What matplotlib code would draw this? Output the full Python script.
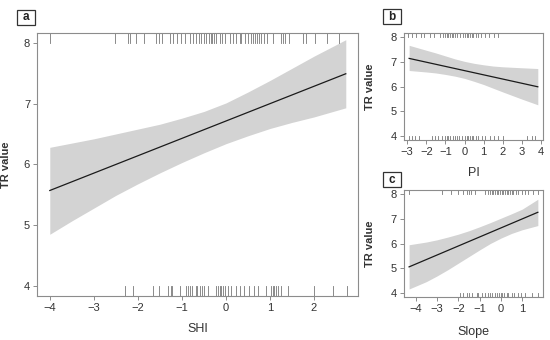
import numpy as np
import matplotlib
matplotlib.use("Agg")
import matplotlib.pyplot as plt
from matplotlib.patches import Rectangle

plt.rcParams['font.family'] = ['Liberation Sans', 'DejaVu Sans']

# panel a: SHI
shi_line_x = [-4.0, 2.72]
shi_line_y = [5.57, 7.49]
shi_band_x = [-4.0, -3.5, -3.0, -2.5, -2.0, -1.5, -1.0, -0.5, 0.0, 0.5, 1.0, 1.5, 2.0, 2.72]
shi_band_lo = [4.85, 5.07, 5.28, 5.49, 5.68, 5.86, 6.03, 6.19, 6.34, 6.47, 6.59, 6.69, 6.78, 6.93]
shi_band_hi = [6.28, 6.35, 6.42, 6.50, 6.58, 6.66, 6.76, 6.87, 7.01, 7.19, 7.38, 7.58, 7.78, 8.05]
shi_rug_top = [-3.99, -2.52, -2.23, -2.18, -2.05, -1.86, -1.59, -1.52, -1.46, -1.28,
               -1.20, -1.12, -1.01, -0.94, -0.82, -0.75, -0.67, -0.62, -0.56, -0.50,
               -0.45, -0.39, -0.35, -0.32, -0.27, -0.22, -0.14, -0.09, -0.03, 0.10,
               0.16, 0.22, 0.31, 0.35, 0.44, 0.50, 0.56, 0.61, 0.65, 0.71, 0.76, 0.80,
               0.87, 0.94, 1.06, 1.25, 1.29, 1.33, 1.44, 1.74, 1.82, 2.03, 2.30, 2.57]
shi_rug_bot = [-2.30, -2.12, -1.65, -1.53, -1.31, -1.24, -1.22, -1.05, -0.90, -0.86,
               -0.82, -0.76, -0.69, -0.65, -0.60, -0.55, -0.50, -0.41, -0.22, -0.18,
               -0.14, -0.11, -0.07, -0.03, 0.04, 0.12, 0.23, 0.31, 0.42, 0.53, 0.63,
               0.72, 0.91, 1.03, 1.06, 1.10, 1.14, 1.18, 1.24, 1.40, 1.99, 2.44, 2.75]

# panel b: PI
pi_line_x = [-2.9, 3.83]
pi_line_y = [7.15, 6.0]
pi_band_x = [-2.9, -2.0, -1.5, -1.0, -0.5, 0.0, 0.5, 1.0, 1.5, 2.0, 3.0, 3.83]
pi_band_lo = [6.66, 6.60, 6.56, 6.50, 6.43, 6.34, 6.22, 6.09, 5.94, 5.79, 5.50, 5.27]
pi_band_hi = [7.68, 7.48, 7.37, 7.25, 7.13, 7.03, 6.95, 6.89, 6.84, 6.81, 6.77, 6.74]
pi_rug_top = [-2.95, -2.77, -2.54, -2.30, -2.11, -1.81, -1.60, -1.29, -1.12, -1.03,
              -0.94, -0.85, -0.76, -0.68, -0.59, -0.50, -0.38, -0.24, -0.10, 0.02,
              0.11, 0.19, 0.28, 0.37, 0.46, 0.60, 0.72, 0.84, 1.07, 1.29, 1.54, 1.76]
pi_rug_bot = [-2.92, -2.77, -2.60, -2.37, -1.72, -1.55, -1.38, -1.20, -1.03, -0.94,
              -0.85, -0.76, -0.62, -0.50, -0.38, -0.28, -0.15, 0.02, 0.11, 0.19,
              0.28, 0.37, 0.46, 0.60, 0.72, 0.90, 1.07, 1.33, 1.54, 1.76, 1.99,
              3.25, 3.51, 3.69]

# panel c: Slope
sl_line_x = [-4.31, 1.73]
sl_line_y = [5.05, 7.27]
sl_band_x = [-4.31, -3.5, -3.0, -2.5, -2.0, -1.5, -1.0, -0.5, 0.0, 0.5, 1.0, 1.73]
sl_band_lo = [4.15, 4.45, 4.68, 4.93, 5.20, 5.47, 5.74, 6.00, 6.22, 6.41, 6.56, 6.73]
sl_band_hi = [5.95, 6.06, 6.15, 6.26, 6.38, 6.52, 6.68, 6.85, 7.03, 7.21, 7.40, 7.80]
sl_rug_top = [-4.31, -2.75, -2.34, -2.03, -1.77, -1.61, -1.50, -1.40, -1.22, -0.75,
              -0.62, -0.51, -0.43, -0.36, -0.28, -0.20, -0.12, -0.04, 0.04, 0.11,
              0.19, 0.27, 0.35, 0.43, 0.51, 0.58, 0.69, 0.82, 0.98, 1.13, 1.29,
              1.52, 1.73]
sl_rug_bot = [-1.92, -1.77, -1.61, -1.50, -1.34, -1.14, -1.06, -0.87, -0.75, -0.62,
              -0.51, -0.40, -0.28, -0.20, -0.09, 0.00, 0.07, 0.16, 0.27, 0.35, 0.51,
              0.63, 0.79, 0.94, 1.13, 1.45, 1.76]

y_ticks = [4, 5, 6, 7, 8]
txt = '#333333'
frame = '#8c8c8c'

fig = plt.figure(figsize=(5.5, 3.4), dpi=100)
ax_a = fig.add_axes([0.0673, 0.1303, 0.583, 0.7726])
ax_b = fig.add_axes([0.7345, 0.588, 0.2527, 0.3135])
ax_c = fig.add_axes([0.7345, 0.1276, 0.2527, 0.3124])


def panel(ax, lx, ly, bx, blo, bhi, rtop, rbot, xlim, xticks, xlabel, ylab_x, xlab_y, rug_len):
    ax.fill_between(bx, blo, bhi, color='#d3d3d3', lw=0)
    ax.plot(lx, ly, color='#1a1a1a', lw=0.9)
    for v in rtop:
        ax.plot([v, v], [1 - rug_len, 1], transform=ax.get_xaxis_transform(),
                color='#555555', lw=0.6, alpha=0.8)
    for v in rbot:
        ax.plot([v, v], [0, rug_len], transform=ax.get_xaxis_transform(),
                color='#555555', lw=0.6, alpha=0.8)
    ax.set_xlim(*xlim)
    ax.set_ylim(3.84, 8.16)
    ax.set_xticks(xticks)
    ax.set_yticks(y_ticks)
    ax.set_xticklabels([str(t).replace('-', '\u2212') for t in xticks])
    for s in ax.spines.values():
        s.set_color(frame)
        s.set_linewidth(0.8)
    ax.tick_params(length=3, width=0.7, color=frame, labelsize=8,
                   labelcolor=txt, pad=2)
    ax.set_ylabel('TR value', fontsize=8, fontweight='bold', color=txt)
    ax.yaxis.set_label_coords(ylab_x, 0.5)
    ax.set_xlabel(xlabel, fontsize=9, color=txt)
    ax.xaxis.set_label_coords(0.5, xlab_y)


panel(ax_a, shi_line_x, shi_line_y, shi_band_x, shi_band_lo, shi_band_hi,
      shi_rug_top, shi_rug_bot, (-4.29, 2.99), [-4, -3, -2, -1, 0, 1, 2], 'SHI',
      -0.08, -0.105, 0.037)
panel(ax_b, pi_line_x, pi_line_y, pi_band_x, pi_band_lo, pi_band_hi,
      pi_rug_top, pi_rug_bot, (-3.17, 4.1), [-3, -2, -1, 0, 1, 2, 3, 4], 'PI',
      -0.205, -0.25, 0.035)
panel(ax_c, sl_line_x, sl_line_y, sl_band_x, sl_band_lo, sl_band_hi,
      sl_rug_top, sl_rug_bot, (-4.55, 1.97), [-4, -3, -2, -1, 0, 1], 'Slope',
      -0.205, -0.28, 0.035)

# panel letters in boxes
for lab, cx, cy in [('a', 25.8, 17.5), ('b', 392.2, 16.7), ('c', 392.2, 179.7)]:
    w, h = 18.5, 15.5
    fig.patches.append(Rectangle(((cx - w / 2) / 550, 1 - (cy + h / 2) / 340),
                                 w / 550, h / 340, transform=fig.transFigure,
                                 fill=False, ec='#333333', lw=0.9))
    fig.text(cx / 550, 1 - cy / 340, lab, ha='center', va='center',
             fontsize=8.5, fontweight='bold', color='#222222')

fig.savefig('out.png', dpi=100)
